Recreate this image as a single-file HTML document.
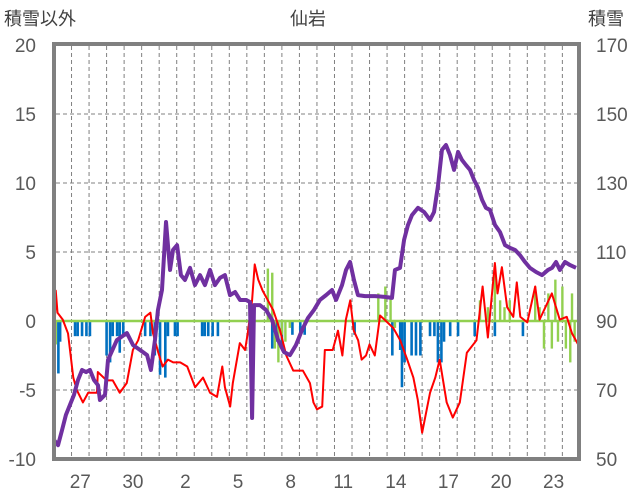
<!DOCTYPE html>
<html><head><meta charset="utf-8"><style>
body{margin:0;background:#fff;}
svg{display:block;font-family:"Liberation Sans","Noto Sans CJK JP",sans-serif;}
</style></head><body>
<svg id="chart" width="636" height="501">
<text x="4" y="25" font-size="18" fill="#404040">積雪以外</text>
<text x="308" y="25" font-size="18" fill="#404040" text-anchor="middle">仙岩</text>
<text x="588" y="25" font-size="18" fill="#404040">積雪</text>
<g id="grid"></g><g id="bars"></g><g id="lines"></g><g id="ticks"></g>
<rect x="54" y="44" width="525" height="415" fill="none" stroke="#808080" stroke-width="4"/>
</svg>
<script>
const leftTicks=[20,15,10,5,0,-5,-10];
const rightTicks=[170,150,130,110,90,70,50];
const dateLabels=['27','30','2','5','8','11','14','17','20','23'];
const dateDays=[1,4,7,10,13,16,19,22,25,28];
const redDays=[0,0.1,0.2,0.5,0.8,1.1,1.3,1.65,1.95,2.45,2.5,3.0,3.35,3.75,4.15,4.5,4.8,5.2,5.5,5.65,5.95,6.2,6.5,6.8,7.2,7.6,8.05,8.5,8.9,9.3,9.6,9.75,10.05,10.2,10.6,10.9,11.05,11.3,11.45,11.65,11.9,12.2,12.5,12.9,13.25,13.65,14.2,14.6,14.8,15.0,15.3,15.45,15.9,16.2,16.45,16.65,16.9,17.1,17.35,17.55,17.8,18.0,18.3,18.6,19.35,19.75,20.15,20.5,20.75,21.0,21.45,21.75,22.0,22.4,22.75,23.15,23.55,24.1,24.45,24.75,25.15,25.3,25.55,25.85,26.2,26.4,26.6,27.0,27.45,27.7,28.4,28.85,29.25,29.55,29.9];
const redVals=[-2.3,2.2,0.6,0.1,-0.9,-4.1,-5.0,-5.9,-5.2,-5.2,-3.7,-4.3,-4.3,-5.2,-4.5,-2.1,-1.4,0.3,0.6,-0.9,-2.3,-3.3,-2.8,-3.0,-3.0,-3.3,-4.8,-4.1,-5.2,-5.5,-3.3,-4.8,-6.2,-4.5,-1.6,-2.1,-0.9,1.5,4.1,3.0,2.2,1.5,0.8,-0.7,-2.5,-3.6,-3.6,-4.5,-5.9,-6.4,-6.2,-2.1,-2.1,-0.7,-2.5,0.1,1.5,-0.7,-1.4,-2.8,-2.5,-1.7,-2.5,0.4,-0.5,-1.4,-2.8,-4.1,-5.7,-8.1,-5.2,-4.1,-2.8,-5.9,-7.0,-5.9,-2.3,-1.4,2.5,-1.2,4.2,2.0,3.9,1.0,0.3,2.8,0.3,-0.1,2.5,0.1,2.0,0.1,0.3,-0.9,-1.7];
const snowDays=[0,0.23,0.46,0.68,0.91,1.14,1.37,1.6,1.83,2.05,2.28,2.51,2.62,2.91,3.08,3.59,4.16,4.51,4.91,5.31,5.53,5.76,5.93,6.16,6.39,6.62,6.79,7.02,7.24,7.47,7.76,8.04,8.33,8.61,8.9,9.18,9.47,9.75,10.04,10.33,10.61,10.95,11.18,11.3,11.41,11.75,12.09,12.44,12.78,13.12,13.46,13.8,14.15,14.49,14.83,15.17,15.52,15.86,16.09,16.43,16.66,16.89,17.11,17.34,17.74,18.31,18.88,19.28,19.45,19.74,19.97,20.19,20.42,20.76,21.11,21.45,21.68,21.91,22.13,22.36,22.59,22.82,23.05,23.27,23.5,23.73,23.96,24.19,24.42,24.64,24.87,25.16,25.44,25.73,26.01,26.3,26.58,26.87,27.15,27.5,27.84,28.18,28.41,28.64,28.86,29.15,29.44,29.78];
const snowVals=[55.5,54,58.4,62.8,65.7,68.6,72.9,75.8,75.2,75.8,72.9,71.4,67.1,68.6,78.7,84.5,86.5,83,81.6,80.1,75.8,84.5,93.2,99,118.7,104.8,110.6,112,103.3,101.9,105.4,100.4,103.3,100.4,104.8,100.4,102.5,103.3,97.5,98.4,96.1,96.1,95.5,61.9,94.6,94.6,93.2,90.3,84.5,81,80.1,83,87.4,90.9,93.2,96.1,97.5,99,96.1,100.4,104.8,107.1,101.9,97.5,97.2,97.2,97,96.7,104.8,105.4,113.5,117.8,120.7,122.8,121.6,119.3,121.6,129.4,139.6,141,138.1,133.8,139,136.7,135.2,133.8,130.9,128.6,125.1,122.8,122.2,117.8,115.8,112,111.2,110.6,109.1,107.1,105.4,104.2,103.3,104.8,105.4,107.1,104.8,107.1,106.2,105.4];
const blueDays=[0.25,0.35,1.2,1.35,1.6,1.85,2.05,3.0,3.2,3.35,3.6,3.75,3.95,5.2,5.5,5.75,6.05,6.35,6.5,6.9,7.05,8.45,8.6,8.8,9.05,9.35,11.2,12.45,12.7,13.0,13.6,14.05,14.3,17.15,19.3,19.75,19.85,20.0,20.4,20.65,20.9,21.45,21.7,21.9,22.1,22.25,22.6,23.05,24.0,25.15,26.75];
const blueVals=[-3.8,-1.5,-1.1,-1.1,-1.1,-1.1,-1.1,-2.5,-3,-1.1,-1.1,-2.3,-1.1,-1.1,-1.1,-2.5,-3.9,-4.1,-1.1,-1.1,-1.1,-1.1,-1.1,-1.1,-1.1,-1.1,-1.1,-2,-1.5,-2,-1,-1,-1,-1,-2.5,-2.1,-4.8,-3,-2.5,-2.5,-2.5,-1.1,-1.1,-3,-3,-1.5,-1.1,-1.1,-1.1,-1.1,-1.1];
const greenDays=[0.1,12.2,12.45,12.6,12.8,13.0,13.2,13.45,18.5,18.9,19.2,19.45,24.3,24.75,25.15,25.45,25.7,26.0,27.45,27.7,27.95,28.2,28.4,28.6,28.75,29.0,29.2,29.45,29.55,29.7,29.9];
const greenVals=[-1.7,3.8,3.5,-2,-3,-1,-1.5,-0.5,2,2.5,1.8,-0.5,1.5,1,4,1.5,1,1.5,2.5,1,-2,2,-2,3,-1.5,2.5,-2,-3,2,-1.5,1];

const NS='http://www.w3.org/2000/svg';
const X0=54,DAY=17.53;
const xs=d=>X0+d*DAY;
const yL=v=>321-v*13.8;
const yR=s=>459-(s-50)*3.45;
function mk(tag,attrs,parent){const e=document.createElementNS(NS,tag);for(const k in attrs)e.setAttribute(k,attrs[k]);parent.appendChild(e);return e;}
const grid=document.getElementById('grid'),bars=document.getElementById('bars'),lines=document.getElementById('lines'),ticks=document.getElementById('ticks');
for(let d=1;d<30;d++){
  const l=mk('line',{x1:xs(d),x2:xs(d),y1:46,y2:458,stroke:'#808080','stroke-width':1,'stroke-dasharray':'4 3'},grid);
  
  
}
leftTicks.forEach((v,i)=>{
  if(v!==20&&v!==-10&&v!==0){
    const g=mk('line',{x1:56,x2:578,y1:yL(v),y2:yL(v),stroke:'#808080','stroke-width':1,'stroke-dasharray':'4 3'},grid);
    
    
  }
  const t=mk('text',{x:36,y:yL(v)+7,'font-size':19,fill:'#595959','text-anchor':'end'},ticks);t.textContent=v;
  
  
  const r=mk('text',{x:596,y:yL(v)+7,'font-size':19,fill:'#595959'},ticks);r.textContent=rightTicks[i];
  
  
});
dateLabels.forEach((s,i)=>{
  const t=mk('text',{x:xs(dateDays[i]+0.5),y:488,'font-size':19,fill:'#595959','text-anchor':'middle'},ticks);t.textContent=s;
  
  
});
blueDays.forEach((d,i)=>{
  const v=blueVals[i];
  const b=mk('rect',{x:xs(d)-1.3,y:yL(0),width:2.6,height:yL(v)-yL(0),fill:'#0070c0'},bars);
  
  
});
greenDays.forEach((d,i)=>{
  const v=greenVals[i];
  const y0=Math.min(yL(0),yL(v)),h=Math.abs(yL(v)-yL(0));
  const b=mk('rect',{x:xs(d)-1.2,y:y0,width:2.4,height:h,fill:'#92d050'},bars);
  
  
});
const zl=mk('line',{x1:56,x2:578,y1:yL(0),y2:yL(0),stroke:'#92d050','stroke-width':2.5},lines);


const red=mk('polyline',{points:redDays.map((d,i)=>xs(d)+','+yL(redVals[i])).join(' '),fill:'none',stroke:'#ff0000','stroke-width':2,'stroke-linejoin':'round'},lines);


const snow=mk('polyline',{points:snowDays.map((d,i)=>xs(d)+','+yR(snowVals[i])).join(' '),fill:'none',stroke:'#7030a0','stroke-width':4,'stroke-linejoin':'round'},lines);


</script>
</body></html>
